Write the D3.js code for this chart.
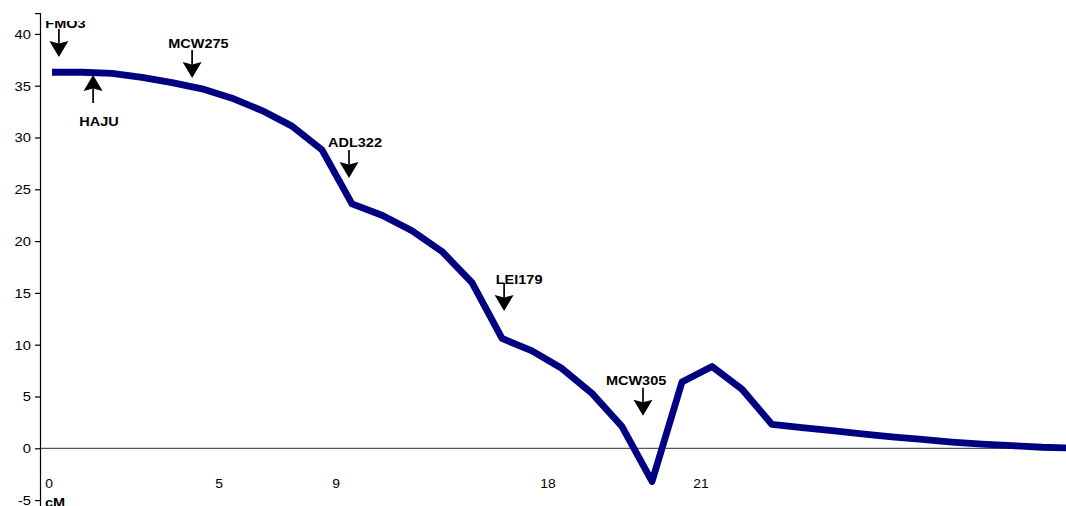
<!DOCTYPE html>
<html><head><meta charset="utf-8">
<script src="https://cdn.jsdelivr.net/npm/d3@7"></script>
<style>
html,body{margin:0;padding:0;background:#fff;overflow:hidden;}
text{font-family:"Liberation Sans",Arial,sans-serif;}
</style></head>
<body><svg id="c" width="1066" height="506"></svg>
<script>
// category index along the map (equally spaced points)
const positions = d3.range(35);
// LOD / test statistic values
const values = [36.3, 36.3, 36.2, 35.8, 35.3, 34.7, 33.8, 32.6, 31.1, 28.8,
                23.6, 22.5, 21.0, 19.0, 16.0, 10.6, 9.4, 7.7, 5.3, 2.1,
                -3.2, 6.4, 7.9, 5.7, 2.3, 2.0, 1.7, 1.4, 1.1, 0.85,
                0.6, 0.4, 0.25, 0.1, 0.03];
const yTicks = [-5, 0, 5, 10, 15, 20, 25, 30, 35, 40];
// cM labels along the x axis and where they sit (category units)
const xLabels = ["0", "5", "9", "18", "21"];
const xLabelAt = [-0.1, 5.57, 9.47, 16.53, 21.63];
const xTitle = "cM";
// marker annotations
const markers   = ["FMO3", "HAJU", "MCW275", "ADL322", "LEI179", "MCW305"];
const markerX   = [0.23, 1.37, 4.67, 9.9, 15.07, 19.7];
const markerTip = [37.77, 36.03, 35.74, 26.09, 13.25, 3.15];
const markerDir = ["down", "up", "down", "down", "down", "down"];
const labelX    = [0.45, 1.57, 4.88, 10.1, 15.57, 19.47];
const labelY    = [40.58, 31.11, 38.64, 29.13, 15.86, 6.11];

const svg = d3.select("#c");
const W = 1066;
const x = d3.scaleLinear().domain([0, 34]).range([52, 1072]);
const y = d3.scaleLinear().domain([-7, 42]).range([520.8, 13.2]);
const axisX = 40;

// x axis line at zero
svg.append("line").attr("x1", axisX).attr("x2", W)
  .attr("y1", y(0)).attr("y2", y(0))
  .attr("stroke", "#555").attr("stroke-width", 1.2);

// y axis
const ya = svg.append("g").attr("transform", `translate(${axisX},0)`)
  .call(d3.axisLeft(y).tickValues(yTicks).tickSize(5).tickFormat(""));
ya.select(".domain").attr("stroke", "#000").attr("stroke-width", 1.2);
ya.selectAll(".tick line").attr("stroke", "#000").attr("stroke-width", 1.2);
ya.selectAll(".tick").append("g").attr("transform", "translate(-9,0) scale(1.17,1)")
  .append("text").attr("text-anchor", "end").attr("dy", "0.35em")
  .attr("font-size", 12.6).attr("fill", "#000").text(d => d);

// x labels
xLabels.forEach((t, i) => {
  svg.append("g").attr("transform", `translate(${x(xLabelAt[i])},${y(-3.83)}) scale(1.1,1)`)
    .append("text").attr("text-anchor", "middle").attr("font-size", 12.6)
    .attr("fill", "#000").text(t);
});
svg.append("g").attr("transform", `translate(45,${y(-5.7)}) scale(1.15,1)`)
  .append("text").attr("font-size", 12.6).attr("font-weight", "bold")
  .attr("fill", "#000").text(xTitle);

// the curve
svg.append("path").datum(positions)
  .attr("d", d3.line().x(i => x(i)).y(i => y(values[i])))
  .attr("fill", "none").attr("stroke", "#000080").attr("stroke-width", 6.8)
  .attr("stroke-linejoin", "round").attr("stroke-linecap", "butt");

// clip for the top-cut label
svg.append("clipPath").attr("id", "topclip").append("rect")
  .attr("x", 0).attr("y", 21).attr("width", W).attr("height", 506);

// annotations
const shaft = 28, headL = 16, headW = 9.5, notch = 2.5;
markers.forEach((m, i) => {
  const ax = x(markerX[i]), tip = y(markerTip[i]);
  const s = markerDir[i] === "down" ? -1 : 1; // direction from tip to tail
  const g = svg.append("g");
  g.append("line").attr("x1", ax).attr("x2", ax)
    .attr("y1", tip + s * shaft).attr("y2", tip + s * (headL - notch))
    .attr("stroke", "#000").attr("stroke-width", 1.7);
  g.append("path").attr("d",
    `M${ax},${tip} L${ax - headW},${tip + s * headL} L${ax},${tip + s * (headL - notch)} L${ax + headW},${tip + s * headL} Z`)
    .attr("fill", "#000");
  const lg = svg.append("g")
    .attr("transform", `translate(${x(labelX[i])},${y(labelY[i])}) scale(1.17,1)`);
  lg.append("text").attr("text-anchor", "middle").attr("font-size", 12.4)
    .attr("font-weight", "bold").attr("fill", "#000").text(m);
  if (i === 0) {
    const wrap = svg.append("g").attr("clip-path", "url(#topclip)");
    wrap.node().appendChild(lg.node());
  }
});
</script></body></html>
